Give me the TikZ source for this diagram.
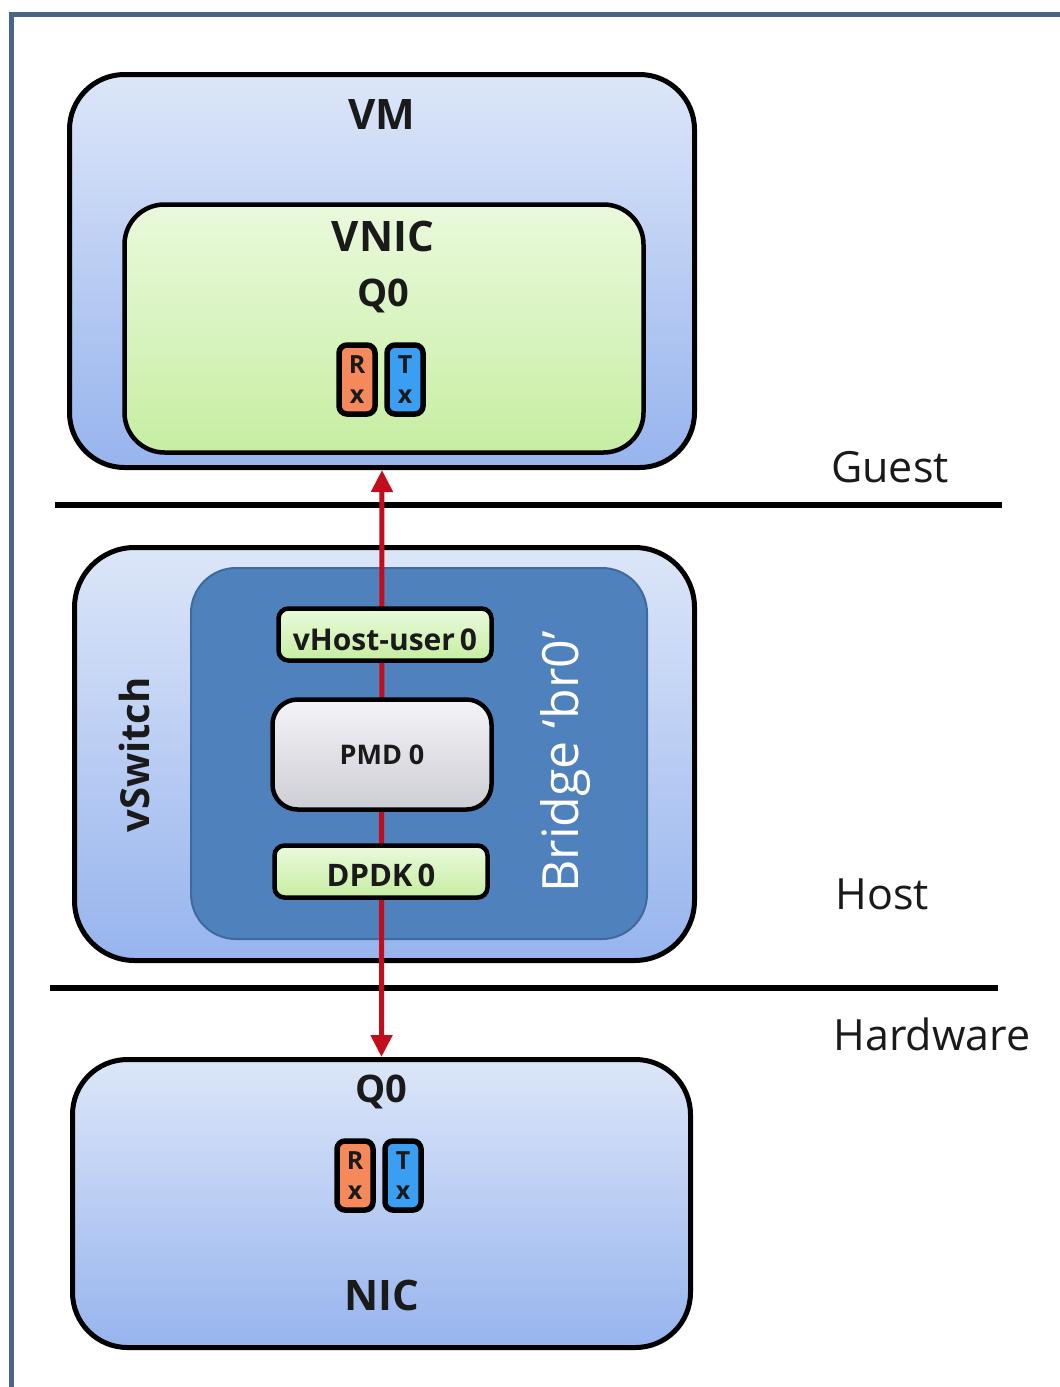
\documentclass[tikz,border=0pt]{standalone}
\usepackage{fontspec}
\setmainfont{Open Sans}
\usetikzlibrary{arrows.meta}

\definecolor{framecol}{HTML}{4A6587}
\definecolor{bluetop}{HTML}{DCE6F8}
\definecolor{bluebot}{HTML}{97B4EE}
\definecolor{greentop}{HTML}{EAF9DC}
\definecolor{greenbot}{HTML}{C6EEA2}
\definecolor{bridgecol}{HTML}{4F81BD}
\definecolor{bridgeline}{HTML}{3E6A9E}
\definecolor{greytop}{HTML}{F3F3F8}
\definecolor{greybot}{HTML}{CDCDD4}
\definecolor{rxcol}{HTML}{F5895C}
\definecolor{txcol}{HTML}{3A9EF3}
\definecolor{linkred}{HTML}{C20E1C}
\definecolor{ink}{HTML}{1A1A1A}

\tikzset{
  bigbox/.style={draw=black, line width=5pt, top color=bluetop, bottom color=bluebot,
    rounded corners=55pt, inner sep=0pt},
  greenbox/.style={draw=black, line width=4.5pt, top color=greentop, bottom color=greenbot,
    inner sep=0pt},
  portbox/.style={greenbox, rounded corners=10pt, minimum width=213pt, minimum height=52pt,
    font=\fontsize{30}{34}\selectfont\bfseries, text=ink, text height=31pt, text depth=0pt},
  queue/.style={draw=black, line width=5.5pt, rounded corners=8pt, inner sep=0pt,
    minimum width=36pt, minimum height=69pt, align=center, text=ink,
    font=\fontsize{25}{30}\selectfont\bfseries},
  boldlbl/.style={font=\fontsize{42}{50}\selectfont\bfseries, text=ink, inner sep=0pt},
  qlbl/.style={font=\fontsize{38}{44}\selectfont\bfseries, text=ink, inner sep=0pt},
  layerlbl/.style={font=\fontsize{43}{50}\selectfont, text=ink, inner sep=0pt},
  layerline/.style={line width=6pt, black},
  link/.style={line width=5pt, linkred, {Triangle[length=22pt,width=21pt]}-{Triangle[length=22pt,width=21pt]}}
}

\begin{document}
\begin{tikzpicture}[x=1pt, y=-1pt]
  \useasboundingbox (0,0) rectangle (1060,1387);
  \fill[white] (0,0) rectangle (1060,1387);
  \clip (0,0) rectangle (1060,1387);

  % outer frame (open to the right and bottom)
  \draw[framecol, line width=5pt] (11,14) rectangle (1085,1410);

  % layer separators
  \coordinate (g1) at (55,505);
  \coordinate (g2) at (1002,505);
  \coordinate (h1) at (50,988);
  \coordinate (h2) at (998,988);
  \draw[layerline] (g1) -- (g2);
  \draw[layerline] (h1) -- (h2);
  \node[layerlbl] (guest) at (890,467) {Guest};
  \node[layerlbl] (host) at (882,894) {Host};
  \node[layerlbl] (hw) at (932,1034) {Hardware};

  % guest: VM with its virtual NIC
  \node[bigbox, minimum width=625pt, minimum height=393pt] (vm) at (382,271) {};
  \node[boldlbl] (vmlbl) at (382,115) {VM};
  \node[greenbox, rounded corners=40pt, minimum width=519pt, minimum height=248pt] (vnic) at (384,328.5) {};
  \node[boldlbl] (vniclbl) at (383,236) {VNIC};
  \node[qlbl] (vq) at (383,296) {Q0};
  \node[queue, fill=rxcol] (vrx) at (357,379.5) {R\\x};
  \node[queue, fill=txcol] (vtx) at (405,379.5) {T\\x};

  % host: vSwitch and bridge
  \node[bigbox, rounded corners=60pt, minimum width=620pt, minimum height=413pt] (vsw) at (384.5,754) {};
  \node[font=\fontsize{40}{48}\selectfont\bfseries, text=ink, rotate=90, inner sep=0pt] (vswlbl) at (134,755) {vSwitch};
  \node[draw=bridgeline, line width=2pt, fill=bridgecol, rounded corners=45pt,
        minimum width=456pt, minimum height=371pt, inner sep=0pt] (br) at (419,753.5) {};
  \node[font=\fontsize{50}{58}\selectfont, text=white, rotate=90, inner sep=0pt] (brlbl) at (566,762) {Bridge ‘br0’};

  % hardware: physical NIC
  \node[bigbox, minimum width=618pt, minimum height=288pt] (nic) at (381.5,1203.5) {};
  \node[qlbl] (nq) at (381,1092) {Q0};
  \node[queue, fill=rxcol] (nrx) at (355,1175.5) {R\\x};
  \node[queue, fill=txcol] (ntx) at (403,1175.5) {T\\x};
  \node[boldlbl] (niclbl) at (382,1295) {NIC};

  % data path between the guest and the physical NIC
  \draw[link] (vm.south) -- (nic.north);

  % ports and poll mode driver on the bridge
  \node[portbox] (vhost) at (385,634.5) {vHost-user\,0};
  \node[draw=black, line width=4.5pt, top color=greytop, bottom color=greybot,
        rounded corners=25pt, minimum width=219pt, minimum height=110pt, inner sep=0pt,
        font=\fontsize{27}{32}\selectfont\bfseries, text=ink] (pmd) at (382,754.5) {PMD 0};
  \node[portbox, font=\fontsize{31}{34}\selectfont\bfseries, text height=30pt] (dpdk) at (381,871.5) {DPDK\,0};
\end{tikzpicture}
\end{document}
